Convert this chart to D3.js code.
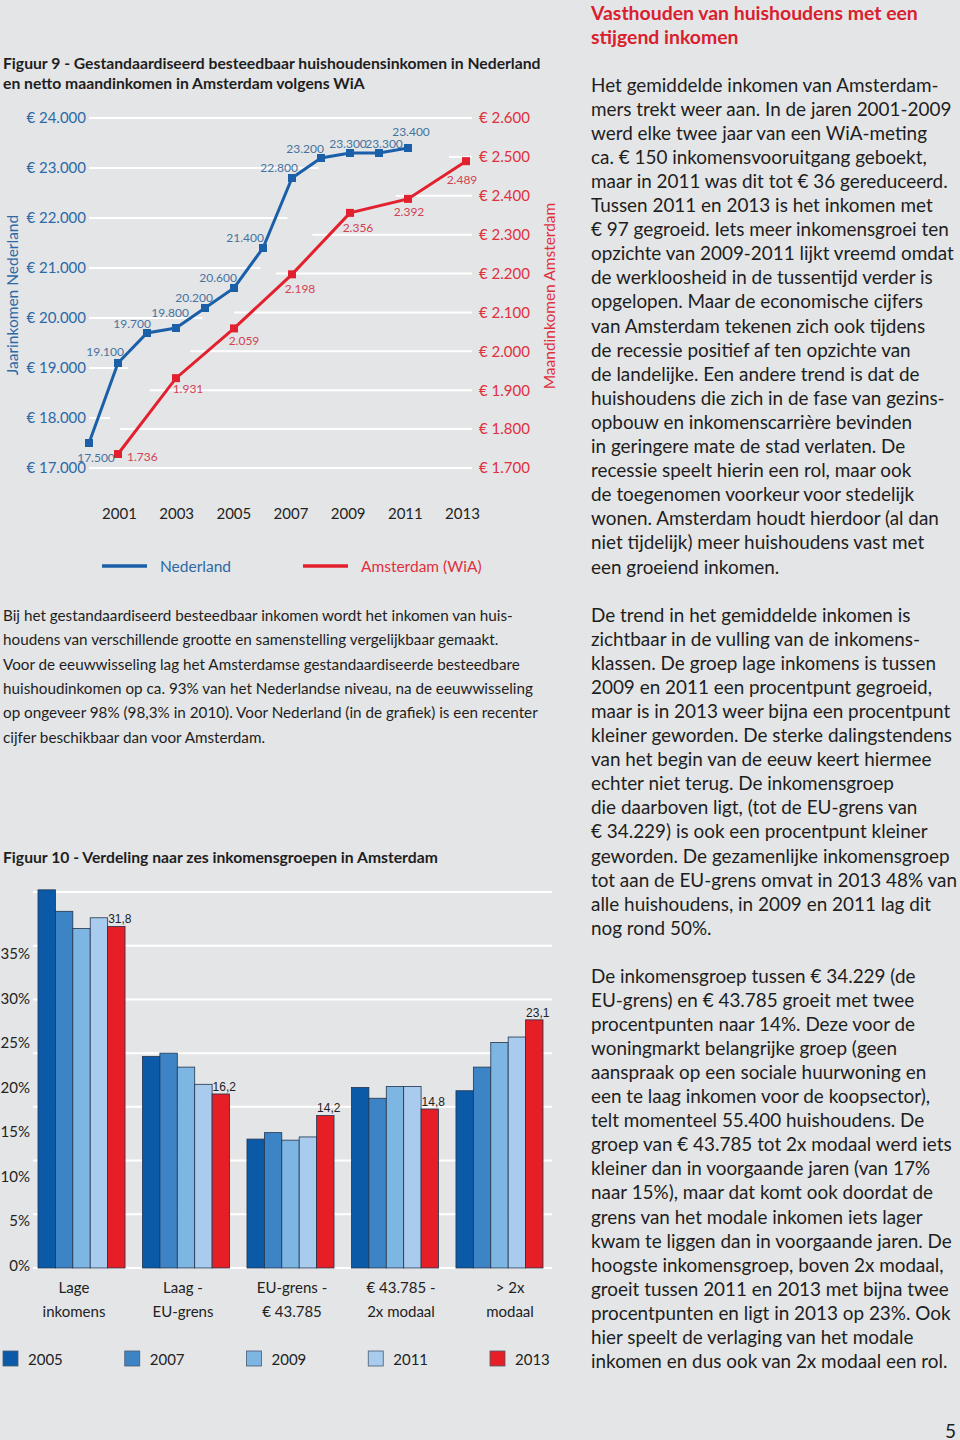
<!DOCTYPE html>
<html><head><meta charset="utf-8">
<script src="https://cdn.jsdelivr.net/npm/d3@7"></script>
<style>html,body{margin:0;padding:0;background:#e4e5e7;}svg{display:block;}</style>
</head><body>
<svg id="page" width="960" height="1440"></svg>
<script>
// ---------- DATA ----------
const nlYears = [2000,2001,2002,2003,2004,2005,2006,2007,2008,2009,2010,2011];
const nlValues = [17500,19100,19700,19800,20200,20600,21400,22800,23200,23300,23300,23400];
const adamYears = [2001,2003,2005,2007,2009,2011,2013];
const adamValues = [1736,1931,2059,2198,2356,2392,2489];
const leftTicks = [17000,18000,19000,20000,21000,22000,23000,24000];
const rightTicks = [1700,1800,1900,2000,2100,2200,2300,2400,2500,2600];
const yearTicks = [2001,2003,2005,2007,2009,2011,2013];
const lineLegend = ["Nederland","Amsterdam (WiA)"];

const groupLines = [["Lage","inkomens"],["Laag -","EU-grens"],["EU-grens -","€ 43.785"],["€ 43.785 -","2x modaal"],["> 2x","modaal"]];
const barYears = ["2005","2007","2009","2011","2013"];
const share2005 = [35.2,19.7,12.0,16.8,16.5];
const share2007 = [33.2,20.0,12.6,15.8,18.7];
const share2009 = [31.6,18.7,11.9,16.9,21.0];
const share2011 = [32.6,17.1,12.2,16.9,21.5];
const share2013 = [31.8,16.2,14.2,14.8,23.1];
const pctTicks = [0,5,10,15,20,25,30,35];

const title9 = ["Figuur 9 - Gestandaardiseerd besteedbaar huishoudensinkomen in Nederland","en netto maandinkomen in Amsterdam volgens WiA"];
const title10 = "Figuur 10 - Verdeling naar zes inkomensgroepen in Amsterdam";
const heading = ["Vasthouden van huishoudens met een","stijgend inkomen"];
const para1 = ["Het gemiddelde inkomen van Amsterdam-","mers trekt weer aan. In de jaren 2001-2009","werd elke twee jaar van een WiA-meting","ca. € 150 inkomensvooruitgang geboekt,","maar in 2011 was dit tot € 36 gereduceerd.","Tussen 2011 en 2013 is het inkomen met","€ 97 gegroeid. Iets meer inkomensgroei ten","opzichte van 2009-2011 lijkt vreemd omdat","de werkloosheid in de tussentijd verder is","opgelopen. Maar de economische cijfers","van Amsterdam tekenen zich ook tijdens","de recessie positief af ten opzichte van","de landelijke. Een andere trend is dat de","huishoudens die zich in de fase van gezins-","opbouw en inkomenscarrière bevinden","in geringere mate de stad verlaten. De","recessie speelt hierin een rol, maar ook","de toegenomen voorkeur voor stedelijk","wonen. Amsterdam houdt hierdoor (al dan","niet tijdelijk) meer huishoudens vast met","een groeiend inkomen."];
const para2 = ["De trend in het gemiddelde inkomen is","zichtbaar in de vulling van de inkomens-","klassen. De groep lage inkomens is tussen","2009 en 2011 een procentpunt gegroeid,","maar is in 2013 weer bijna een procentpunt","kleiner geworden. De sterke dalingstendens","van het begin van de eeuw keert hiermee","echter niet terug. De inkomensgroep","die daarboven ligt, (tot de EU-grens van","€ 34.229) is ook een procentpunt kleiner","geworden. De gezamenlijke inkomensgroep","tot aan de EU-grens omvat in 2013 48% van","alle huishoudens, in 2009 en 2011 lag dit","nog rond 50%."];
const para3 = ["De inkomensgroep tussen € 34.229 (de","EU-grens) en € 43.785 groeit met twee","procentpunten naar 14%. Deze voor de","woningmarkt belangrijke groep (geen","aanspraak op een sociale huurwoning en","een te laag inkomen voor de koopsector),","telt momenteel 55.400 huishoudens. De","groep van € 43.785 tot 2x modaal werd iets","kleiner dan in voorgaande jaren (van 17%","naar 15%), maar dat komt ook doordat de","grens van het modale inkomen iets lager","kwam te liggen dan in voorgaande jaren. De","hoogste inkomensgroep, boven 2x modaal,","groeit tussen 2011 en 2013 met bijna twee","procentpunten en ligt in 2013 op 23%. Ook","hier speelt de verlaging van het modale","inkomen en dus ook van 2x modaal een rol."];
const noteLeft = ["Bij het gestandaardiseerd besteedbaar inkomen wordt het inkomen van huis-","houdens van verschillende grootte en samenstelling vergelijkbaar gemaakt.","Voor de eeuwwisseling lag het Amsterdamse gestandaardiseerde besteedbare","huishoudinkomen op ca. 93% van het Nederlandse niveau, na de eeuwwisseling","op ongeveer 98% (98,3% in 2010). Voor Nederland (in de grafiek) is een recenter","cijfer beschikbaar dan voor Amsterdam."];
const pageNumber = "5";

// ---------- STYLE ----------
const FONT = "Lato, 'Noto Sans', sans-serif";
const BLUE = "#1b5fa8", RED = "#e3202d";
const BLUE_TXT = "#2c69a6", RED_TXT = "#e0303e";
const BLUE_LBL = "#46739e", RED_LBL = "#d24352";
const TXT = "#1e1e1e";
const barColors = ["#0b5aa8","#3d84c6","#7db5e3","#a9ccee","#e61e25"];

const svg = d3.select("#page");

function fitSize(text, weight, target, base){
  const t = svg.append("text").attr("font-family",FONT).attr("font-weight",weight).attr("font-size",base).text(text);
  const w = t.node().getComputedTextLength(); t.remove();
  return base*target/w;
}
function block(lines, x, y0, lh, size, weight, color){
  svg.append("g").selectAll("text").data(lines).join("text")
    .attr("x",x).attr("y",(d,i)=>y0+i*lh).attr("dominant-baseline","central")
    .attr("font-family",FONT).attr("font-weight",weight).attr("font-size",size).attr("fill",color).text(d=>d);
}

// ---------- TEXT ----------
const bodySize = fitSize(para1[4], 400, 357, 18);
const headSize = fitSize(heading[0], 700, 327, 18);
const titleSize = fitSize(title9[0], 700, 538, 14);
const noteSize = fitSize(noteLeft[4], 400, 535, 14);
block(heading, 591, 12, 24, headSize, 700, "#d9202e");
block(para1, 591, 84, 24.1, bodySize, 400, TXT);
block(para2, 591, 614, 24.1, bodySize, 400, TXT);
block(para3, 591, 975, 24.1, bodySize, 400, TXT);
block(title9, 3, 62, 20, titleSize, 700, TXT);
block(noteLeft, 3, 615, 24.3, noteSize, 400, TXT);
block([title10], 3, 856, 20, titleSize, 700, TXT);
svg.append("text").attr("x",956).attr("y",1430).attr("text-anchor","end").attr("dominant-baseline","central")
  .attr("font-family",FONT).attr("font-size",19).attr("fill",TXT).text(pageNumber);

// ---------- FIGURE 9 (line chart) ----------
const x = d3.scaleLinear().domain([2000,2013]).range([89,466]);
const xYearLabel = d3.scaleLinear().domain([2001,2013]).range([119,462]); // year labels as placed in original
const yL = d3.scaleLinear().domain([17000,24000]).range([468,118]);
const yR = d3.scaleLinear().domain([1700,2600]).range([468,118]);
const nl = nlYears.map((yr,i)=>({yr, v:nlValues[i]}));
const ad = adamYears.map((yr,i)=>({yr, v:adamValues[i]}));

function crossing(series, v){
  for(let i=0;i<series.length-1;i++){
    const a=series[i], b=series[i+1];
    if((a.v-v)*(b.v-v)<=0 && a.v!==b.v){ return x(a.yr + (b.yr-a.yr)*(v-a.v)/(b.v-a.v)); }
  }
  return null;
}
const g9 = svg.append("g");
const gridL = g9.append("g");
leftTicks.forEach(v=>{
  const c = crossing(nl, v);
  gridL.append("line").attr("x1",89).attr("x2", c===null ? 472 : c+12)
    .attr("y1",yL(v)).attr("y2",yL(v)).attr("stroke","#fff").attr("stroke-width",2);
});
rightTicks.forEach(v=>{
  let c = crossing(ad, v);
  let start;
  if(c!==null) start = c-17;
  else if(v>d3.max(adamValues)) start = x(adamYears[adamYears.length-1])-17;
  else start = 89;
  gridL.append("line").attr("x1",start).attr("x2",472)
    .attr("y1",yR(v)).attr("y2",yR(v)).attr("stroke","#fff").attr("stroke-width",2);
});

const eur = v => "€ " + d3.format(",")(v).replace(/,/g,".");
const axL = d3.axisLeft(yL).tickValues(leftTicks).tickSize(0).tickPadding(0).tickFormat(eur);
g9.append("g").attr("transform","translate(86,0)").call(axL)
  .call(g=>g.select(".domain").remove())
  .call(g=>g.selectAll("text").attr("font-family",FONT).attr("font-size",15).attr("fill",BLUE_TXT));
const axR = d3.axisRight(yR).tickValues(rightTicks).tickSize(0).tickPadding(0).tickFormat(eur);
g9.append("g").attr("transform","translate(479,0)").call(axR)
  .call(g=>g.select(".domain").remove())
  .call(g=>g.selectAll("text").attr("font-family",FONT).attr("font-size",15).attr("fill",RED_TXT));
const axX = d3.axisBottom(xYearLabel).tickValues(yearTicks).tickSize(0).tickPadding(0).tickFormat(d3.format("d"));
g9.append("g").attr("transform","translate(0,508)").call(axX)
  .call(g=>g.select(".domain").remove())
  .call(g=>g.selectAll("text").attr("font-family",FONT).attr("font-size",15).attr("fill","#222"));

g9.append("text").attr("transform","translate(18,295) rotate(-90)").attr("text-anchor","middle")
  .attr("font-family",FONT).attr("font-size",15.5).attr("fill",BLUE_TXT).text("Jaarinkomen Nederland");
g9.append("text").attr("transform","translate(555,296) rotate(-90)").attr("text-anchor","middle")
  .attr("font-family",FONT).attr("font-size",15.5).attr("fill",RED_TXT).text("Maandinkomen Amsterdam");

const lineNL = d3.line().x(d=>x(d.yr)).y(d=>yL(d.v));
const lineAD = d3.line().x(d=>x(d.yr)).y(d=>yR(d.v));
g9.append("path").datum(nl).attr("d",lineNL).attr("fill","none").attr("stroke",BLUE).attr("stroke-width",3);
g9.append("path").datum(ad).attr("d",lineAD).attr("fill","none").attr("stroke",RED).attr("stroke-width",3);
const S=8;
g9.append("g").selectAll("rect").data(nl).join("rect")
  .attr("x",d=>x(d.yr)-S/2).attr("y",d=>yL(d.v)-S/2).attr("width",S).attr("height",S).attr("fill",BLUE);
g9.append("g").selectAll("rect").data(ad).join("rect")
  .attr("x",d=>x(d.yr)-S/2).attr("y",d=>yR(d.v)-S/2).attr("width",S).attr("height",S).attr("fill",RED);

// label placement (layout only)
const nlLabelPos = [["middle",7,14],["end",6,-12],["end",4,-10],["end",13,-16],["end",8,-11],["end",3,-11],["end",1,-11],["end",6,-11],["end",3,-10],["middle",-2,-10],["middle",5,-10],["middle",3,-17]];
const adLabelPos = [["start",9,2],["middle",12,10],["middle",10,12],["middle",8,14],["middle",8,15],["middle",1,13],["middle",-4,18]];
const fmtDot = v => d3.format(",")(v).replace(/,/g,".");
g9.append("g").selectAll("text").data(nl).join("text")
  .attr("x",(d,i)=>x(d.yr)+nlLabelPos[i][1]).attr("y",(d,i)=>yL(d.v)+nlLabelPos[i][2])
  .attr("text-anchor",(d,i)=>nlLabelPos[i][0]).attr("dominant-baseline","central")
  .attr("font-family",FONT).attr("font-size",12).attr("fill",BLUE_LBL).text(d=>fmtDot(d.v));
g9.append("g").selectAll("text").data(ad).join("text")
  .attr("x",(d,i)=>x(d.yr)+adLabelPos[i][1]).attr("y",(d,i)=>yR(d.v)+adLabelPos[i][2])
  .attr("text-anchor",(d,i)=>adLabelPos[i][0]).attr("dominant-baseline","central")
  .attr("font-family",FONT).attr("font-size",12).attr("fill",RED_LBL).text(d=>fmtDot(d.v));

// legend
const leg = g9.append("g");
[[102,BLUE,BLUE_TXT],[303,RED,RED_TXT]].forEach((p,i)=>{
  leg.append("line").attr("x1",p[0]).attr("x2",p[0]+45).attr("y1",566).attr("y2",566).attr("stroke",p[1]).attr("stroke-width",3.5);
  leg.append("text").attr("x",p[0]+58).attr("y",566).attr("dominant-baseline","central")
    .attr("font-family",FONT).attr("font-size",15.5).attr("fill",p[2]).text(lineLegend[i]);
});

// ---------- FIGURE 10 (bar chart) ----------
const shares = [share2005,share2007,share2009,share2011,share2013];
const groups = groupLines.map((_,i)=>i);
const xb = d3.scaleBand().domain(groups).range([38,543]).paddingInner(0.167).paddingOuter(0);
const xi = d3.scaleBand().domain(barYears).range([0,xb.bandwidth()]);
const yb = d3.scaleLinear().domain([0,35]).range([1268,892]);
const yLab = d3.scaleLinear().domain([0,35]).range([1265,953]);   // tick labels as placed in original
const xLab = d3.scalePoint().domain(groups).range([74,510]);

const g10 = svg.append("g");
g10.append("g").selectAll("line").data(pctTicks).join("line")
  .attr("x1",33).attr("x2",552).attr("y1",d=>yb(d)).attr("y2",d=>yb(d)).attr("stroke","#fff").attr("stroke-width",2);
g10.append("g").selectAll("text").data(pctTicks).join("text")
  .attr("x",30).attr("y",d=>yLab(d)).attr("text-anchor","end").attr("dominant-baseline","central")
  .attr("font-family",FONT).attr("font-size",15).attr("fill","#222").text(d=>d+"%");

const bars = [];
groups.forEach(gi=>barYears.forEach((yr,k)=>bars.push({gi,yr,k,v:shares[k][gi]})));
g10.append("g").selectAll("rect").data(bars).join("rect")
  .attr("x",d=>xb(d.gi)+xi(d.yr)).attr("y",d=>yb(d.v)).attr("width",xi.bandwidth()).attr("height",d=>yb(0)-yb(d.v))
  .attr("fill",d=>barColors[d.k]).attr("stroke","#22344d").attr("stroke-width",0.8);
g10.append("g").selectAll("text").data(bars.filter(d=>d.yr==="2013")).join("text")
  .attr("x",d=>xb(d.gi)+xi(d.yr)+0.5).attr("y",d=>yb(d.v)-7).attr("dominant-baseline","central")
  .attr("font-family","'Liberation Sans', Arial, sans-serif").attr("font-size",12).attr("fill","#222")
  .text(d=>d.v.toFixed(1).replace(".",","));

const gl = g10.append("g");
groups.forEach(gi=>{
  groupLines[gi].forEach((t,j)=>{
    gl.append("text").attr("x",xLab(gi)).attr("y",1287+j*24).attr("text-anchor","middle").attr("dominant-baseline","central")
      .attr("font-family",FONT).attr("font-size",15).attr("fill","#222").text(t);
  });
});
const xLeg = d3.scalePoint().domain(barYears).range([3,490]);
const lg = g10.append("g");
barYears.forEach((yr,k)=>{
  lg.append("rect").attr("x",xLeg(yr)).attr("y",1351).attr("width",15).attr("height",15)
    .attr("fill",barColors[k]).attr("stroke","#4a5a70").attr("stroke-width",0.8);
  lg.append("text").attr("x",xLeg(yr)+25).attr("y",1359).attr("dominant-baseline","central")
    .attr("font-family",FONT).attr("font-size",15).attr("fill","#222").text(yr);
});
</script>
</body></html>
